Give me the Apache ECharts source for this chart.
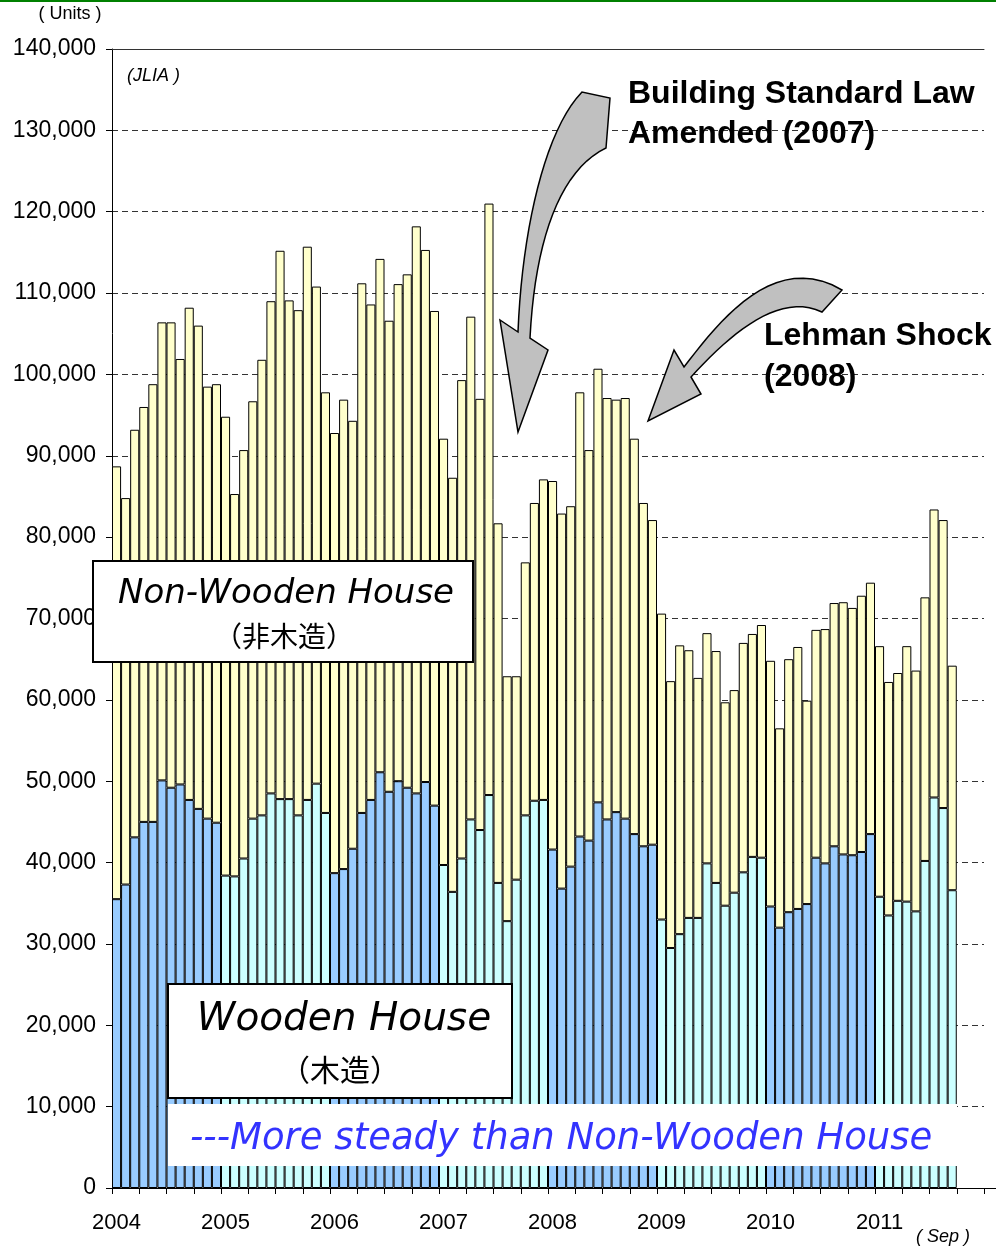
<!DOCTYPE html>
<html>
<head>
<meta charset="utf-8">
<script src="https://cdn.jsdelivr.net/npm/echarts@6/dist/echarts.min.js"></script>
<style>
  html, body { margin: 0; padding: 0; background: #fff; }
  #chart { width: 996px; height: 1246px; }
</style>
</head>
<body>
<div id="chart"></div>
<script>
// housing starts by month, Jan 2004 - Sep 2011 (JLIA)
const years = ['2004', '2005', '2006', '2007', '2008', '2009', '2010', '2011'];
const months = [];
years.forEach(y => {
  for (let m = 1; m <= 12; m++) months.push(y + '-' + (m < 10 ? '0' + m : m));
});

const wooden = [
  35500, 37300, 43100, 45000, 45000, 50100, 49200, 49600, 47700, 46600, 45400, 44900,
  38400, 38300, 40500, 45400, 45800, 48500, 47800, 47800, 45800, 47700, 49700, 46100,
  38700, 39200, 41700, 46100, 47700, 51100, 48700, 50000, 49200, 48500, 49900, 47000,
  39700, 36400, 40500, 45300, 44000, 48300, 37500, 32800, 37900, 45800, 47600, 47700,
  41600, 36800, 39500, 43200, 42700, 47400, 45300, 46200, 45400, 43500, 42000, 42200,
  33000, 29500, 31200, 33200, 33200, 39900, 37500, 34700, 36300, 38800, 40700, 40600,
  34600, 32000, 33900, 34300, 34900, 40600, 39900, 42000, 41000, 40900, 41300, 43500,
  35800, 33500, 35300, 35200, 34000, 40200, 48000, 46700, 36600
];
const nonWooden = [
  53200, 47500, 50100, 51000, 53800, 56300, 57200, 52300, 60500, 59400, 53100, 53900,
  56400, 47000, 50200, 51300, 56000, 60500, 67400, 61300, 62100, 68000, 61100, 51700,
  54100, 57700, 52600, 65100, 60900, 63100, 57900, 61100, 63100, 69700, 65400, 60800,
  52400, 50900, 58800, 61800, 53000, 72700, 44200, 30100, 25000, 31100, 36600, 39400,
  45300, 46100, 44300, 54600, 48000, 53300, 51800, 50700, 51700, 48600, 42200, 39900,
  37600, 32800, 35500, 32900, 29500, 28300, 28500, 25000, 24900, 28200, 27400, 28600,
  30200, 24500, 31100, 32200, 25000, 28000, 28800, 29900, 31000, 30400, 31500, 30900,
  30800, 28700, 28000, 31400, 29600, 32400, 35400, 35400, 27600
];

const woodColors = ['#99ccff', '#ccffff'];
const woodData = wooden.map((v, i) => ({
  value: v,
  itemStyle: { color: woodColors[Math.floor(i / 12) % 2] }
}));

const baseFont = '"Liberation Sans", Arial, sans-serif';
const boxFont = '"DejaVu Sans", sans-serif';
const cjkFont = '"Noto Sans CJK JP", sans-serif';

// sample a cubic curve for the callout arrows
function curve(p0, p1, p2, p3) {
  const pts = [];
  for (let k = 0; k <= 20; k++) {
    const t = k / 20, u = 1 - t;
    pts.push([
      u * u * u * p0[0] + 3 * u * u * t * p1[0] + 3 * u * t * t * p2[0] + t * t * t * p3[0],
      u * u * u * p0[1] + 3 * u * u * t * p1[1] + 3 * u * t * t * p2[1] + t * t * t * p3[1]
    ]);
  }
  return pts;
}

const arrowLaw = [].concat(
  curve([582, 92], [545, 130], [522, 230], [518, 332]),
  [[500, 320], [518, 432], [548, 350]],
  curve([530, 338], [535, 240], [560, 170], [606, 148]),
  [[610, 98]]
);
const arrowLehman = [].concat(
  curve([684, 367], [720, 320], [775, 250], [842, 290]),
  curve([822, 312], [780, 292], [732, 332], [691, 377]),
  [[701, 394], [648, 421], [674, 350]]
);

const chart = echarts.init(document.getElementById('chart'), null, { renderer: 'canvas' });

const option = {
  animation: false,
  backgroundColor: '#fff',
  textStyle: { fontFamily: baseFont },
  grid: { left: 112, right: 12, top: 49, bottom: 58 },
  xAxis: [
    {
      type: 'category',
      data: months,
      boundaryGap: true,
      axisLine: { show: true, lineStyle: { color: '#000', width: 1 } },
      axisTick: {
        show: true,
        length: 6,
        interval: (idx) => idx % 3 === 0 && idx <= 93,
        lineStyle: { color: '#000' }
      },
      axisLabel: {
        interval: (idx) => idx % 12 === 0,
        formatter: v => v.slice(0, 4),
        fontSize: 22,
        color: '#000',
        margin: 24,
        fontFamily: baseFont
      },
      splitLine: { show: false }
    },
    {
      type: 'category',
      data: months,
      position: 'top',
      axisLine: { show: true, lineStyle: { color: '#333', width: 1 } },
      axisTick: { show: false },
      axisLabel: { show: false },
      splitLine: { show: false }
    }
  ],
  yAxis: {
    type: 'value',
    min: 0,
    max: 140000,
    interval: 10000,
    axisLine: { show: true, lineStyle: { color: '#000', width: 1 } },
    axisTick: { show: true, length: 6, lineStyle: { color: '#000' } },
    axisLabel: {
      formatter: v => v.toLocaleString('en-US'),
      fontSize: 23,
      color: '#000',
      margin: 16,
      fontFamily: baseFont
    },
    splitLine: { show: true, lineStyle: { color: '#333', type: [6, 4], width: 1 } }
  },
  series: [
    {
      name: 'Wooden',
      type: 'bar',
      stack: 'all',
      barWidth: '100%',
      barCategoryGap: '0%',
      data: woodData,
      itemStyle: { borderColor: '#000', borderWidth: 1 }
    },
    {
      name: 'Non-Wooden',
      type: 'bar',
      stack: 'all',
      barWidth: '100%',
      barCategoryGap: '0%',
      data: nonWooden,
      itemStyle: { color: '#ffffcc', borderColor: '#000', borderWidth: 1 }
    }
  ],
  graphic: [
    // green page rule
    { type: 'rect', shape: { x: 0, y: 0, width: 996, height: 2 }, style: { fill: '#008000' }, z: 100 },
    // x axis runs on to the edge
    { type: 'line', shape: { x1: 984, y1: 1188.5, x2: 996, y2: 1188.5 }, style: { stroke: '#000', lineWidth: 1 }, z: 100 },
    { type: 'text', x: 70, y: 14, z: 100,
      style: { text: '( Units )', font: '18px ' + baseFont, fill: '#000', textAlign: 'center', textVerticalAlign: 'middle' } },
    { type: 'text', x: 127, y: 76, z: 100,
      style: { text: '(JLIA )', font: 'italic 18px ' + baseFont, fill: '#000', textAlign: 'left', textVerticalAlign: 'middle' } },
    { type: 'text', x: 943, y: 1237, z: 100,
      style: { text: '( Sep )', font: 'italic 18px ' + baseFont, fill: '#000', textAlign: 'center', textVerticalAlign: 'middle' } },

    // callout arrows
    { type: 'polygon', z: 100, shape: { points: arrowLaw },
      style: { fill: '#c0c0c0', stroke: '#000', lineWidth: 1.5 } },
    { type: 'polygon', z: 100, shape: { points: arrowLehman },
      style: { fill: '#c0c0c0', stroke: '#000', lineWidth: 1.5 } },

    { type: 'text', x: 628, y: 94, z: 100,
      style: { text: 'Building Standard Law', font: 'bold 32px ' + baseFont, fill: '#000', textAlign: 'left', textVerticalAlign: 'middle' } },
    { type: 'text', x: 628, y: 134, z: 100,
      style: { text: 'Amended (2007)', font: 'bold 32px ' + baseFont, fill: '#000', textAlign: 'left', textVerticalAlign: 'middle' } },
    { type: 'text', x: 764, y: 336, z: 100,
      style: { text: 'Lehman Shock', font: 'bold 32px ' + baseFont, fill: '#000', textAlign: 'left', textVerticalAlign: 'middle' } },
    { type: 'text', x: 764, y: 377, z: 100,
      style: { text: '(2008)', font: 'bold 32px ' + baseFont, fill: '#000', textAlign: 'left', textVerticalAlign: 'middle' } },

    // non-wooden label box
    { type: 'rect', z: 100, shape: { x: 93, y: 561, width: 380, height: 101 },
      style: { fill: '#fff', stroke: '#000', lineWidth: 2 } },
    { type: 'text', x: 286, y: 594, z: 101,
      style: { text: 'Non-Wooden House', font: 'italic 34px ' + boxFont, fill: '#000', textAlign: 'center', textVerticalAlign: 'middle' } },
    { type: 'text', x: 284, y: 636, z: 101,
      style: { text: '（非木造）', font: '28px ' + cjkFont, fill: '#000', textAlign: 'center', textVerticalAlign: 'middle' } },

    // wooden label box
    { type: 'rect', z: 100, shape: { x: 168, y: 984, width: 344, height: 114 },
      style: { fill: '#fff', stroke: '#000', lineWidth: 2 } },
    { type: 'text', x: 344, y: 1020, z: 101,
      style: { text: 'Wooden House', font: 'italic 39px ' + boxFont, fill: '#000', textAlign: 'center', textVerticalAlign: 'middle' } },
    { type: 'text', x: 340, y: 1070, z: 101,
      style: { text: '（木造）', font: '30px ' + cjkFont, fill: '#000', textAlign: 'center', textVerticalAlign: 'middle' } },

    // banner
    { type: 'rect', z: 100, shape: { x: 168, y: 1104, width: 789, height: 62 },
      style: { fill: '#fff' } },
    { type: 'text', x: 190, y: 1139, z: 101,
      style: { text: '---More steady than Non-Wooden House', font: 'italic 37px ' + boxFont, fill: '#3333ff', textAlign: 'left', textVerticalAlign: 'middle' } }
  ]
};

chart.setOption(option);
</script>
</body>
</html>
